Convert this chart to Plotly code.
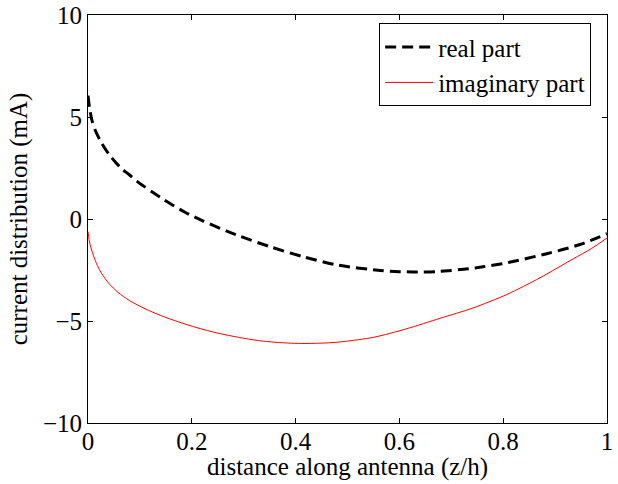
import plotly.graph_objects as go

z_real = [0.0, 0.003, 0.007, 0.014, 0.023, 0.032, 0.042, 0.053, 0.065, 0.079, 0.094, 0.108, 0.123,
          0.14, 0.158, 0.187, 0.222, 0.286, 0.351, 0.415, 0.479, 0.563, 0.6, 0.635, 0.672,
          0.736, 0.761, 0.807, 0.884, 0.948, 1.0]
v_real = [6.05, 5.45, 4.9, 4.35, 3.87, 3.48, 3.12, 2.78, 2.46, 2.18, 1.86, 1.6, 1.34,
          1.05, 0.76, 0.33, -0.1, -0.78, -1.36, -1.85, -2.25, -2.52, -2.58, -2.6, -2.58,
          -2.43, -2.34, -2.15, -1.7, -1.25, -0.72]

z_imag = [0.0, 0.002, 0.004, 0.007, 0.012, 0.018, 0.026, 0.04, 0.058, 0.08, 0.11, 0.14, 0.174,
          0.21, 0.251, 0.29, 0.328, 0.36, 0.392, 0.418, 0.444, 0.47, 0.495,
          0.55, 0.614, 0.678, 0.742, 0.807, 0.871, 0.935, 0.97, 1.0]
v_imag = [-0.62, -1.0, -1.25, -1.52, -1.9, -2.28, -2.66, -3.15, -3.6, -4.0, -4.4, -4.73, -5.04,
          -5.33, -5.6, -5.8, -5.96, -6.04, -6.09, -6.1, -6.09, -6.06, -6.0,
          -5.8, -5.38, -4.87, -4.36, -3.7, -2.88, -1.95, -1.45, -0.93]

x_ticks = [0, 0.2, 0.4, 0.6, 0.8, 1]
x_ticklabels = ["0", "0.2", "0.4", "0.6", "0.8", "1"]
y_ticks = [-10, -5, 0, 5, 10]
y_ticklabels = ["\u221210", "\u22125", "0", "5", "10"]

x_title = "distance along antenna (z/h)"
y_title = "current distribution (mA)"

FONT = "Liberation Serif, Times New Roman, DejaVu Serif, serif"
FS = 25

fig = go.Figure()
fig.add_trace(go.Scatter(x=z_real, y=v_real, mode="lines", name="real part",
                         line=dict(color="black", width=3, dash="11px,6px", shape="spline", smoothing=0.8)))
fig.add_trace(go.Scatter(x=z_imag, y=v_imag, mode="lines", name="imaginary part",
                         line=dict(color="red", width=1, shape="spline", smoothing=0.8)))

axis_common = dict(showgrid=False, zeroline=False, showline=True, linecolor="black", linewidth=1,
                   mirror="ticks", ticks="inside", ticklen=5, tickcolor="black", tickwidth=1,
                   automargin=False,
                   tickfont=dict(family=FONT, size=FS, color="black"))

fig.update_layout(
    width=618, height=484,
    margin=dict(l=88, r=11, t=15, b=61),
    paper_bgcolor="white", plot_bgcolor="white",
    font=dict(family=FONT, size=FS, color="black"),
    xaxis=dict(range=[0, 1], tickvals=x_ticks, ticktext=x_ticklabels,
               ticklabelstandoff=-4, **axis_common),
    yaxis=dict(range=[-10, 10], tickvals=y_ticks, ticktext=y_ticklabels,
               title=dict(text=y_title, standoff=8,
                          font=dict(family=FONT, size=FS)), **axis_common),
    legend=dict(x=0.561, y=0.98, xanchor="left", yanchor="top",
                bgcolor="white", bordercolor="black", borderwidth=1,
                font=dict(family=FONT, size=FS), tracegroupgap=0, itemwidth=48),
    showlegend=True,
    annotations=[dict(text=x_title, xref="paper", yref="paper", x=0.5, y=-0.108,
                      xanchor="center", yanchor="middle", showarrow=False,
                      font=dict(family=FONT, size=FS, color="black"))],
)

fig.write_html("out.html", config={"displayModeBar": False},
               post_script="document.body.style.margin='0';document.body.style.overflow='hidden';")
